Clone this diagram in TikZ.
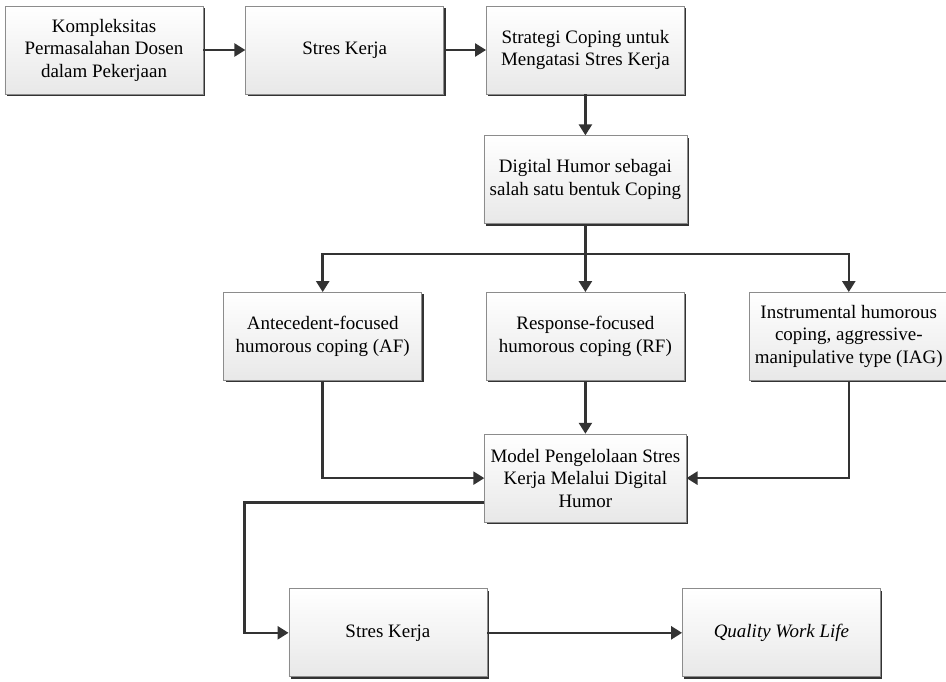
\documentclass[tikz,border=0pt]{standalone}
\usepackage{fontspec}
\setmainfont{Liberation Serif}
\usetikzlibrary{positioning,shadows,arrows.meta}

\begin{document}
\begin{tikzpicture}[node distance=0.84cm]
                \tikzstyle{kotak}= [draw=black!45, thin, top color=white, bottom color=black!9, minimum width=3.96cm, minimum height=1.76cm, align=center, font=\fontsize{10.8}{12.8}\selectfont, drop shadow={shadow xshift=0.04cm, shadow yshift=-0.04cm, fill=black!80, opacity=1}]
                \tikzstyle{panah}= [-{Triangle[length=2.2mm,width=2.6mm]}, line width=1.4pt, draw=black!80]
                \useasboundingbox (-2.08,1.0) rectangle (16.84,-12.62);
                \node[kotak] (kompleks)  {Kompleksitas\\Permasalahan Dosen\\dalam Pekerjaan};
                \node[kotak] (stres) [right=of kompleks] {Stres Kerja};
		        \node[kotak] (strategi) [right=of stres] {Strategi Coping untuk\\Mengatasi Stres Kerja};
		        \node[kotak] (digital) [below=0.82cm of strategi] {Digital Humor sebagai\\salah satu bentuk Coping};
		        \node[kotak] (rf) [below=1.36cm of digital] {Response-focused\\humorous coping (RF)};
		        \node[kotak] (af) [left=1.28cm of rf] {Antecedent-focused\\humorous coping (AF)};
		        \node[kotak] (iag) [right=1.28cm of rf] {Instrumental humorous\\coping, aggressive-\\manipulative type (IAG)};
		        \node[kotak] (model) [below=1.06cm of rf] {Model Pengelolaan Stres\\Kerja Melalui Digital\\Humor};
		        \node[kotak] (stres2) [below=1.32cm of model, xshift=-3.95cm] {Stres Kerja};
		        \node[kotak] (qwl) [below=1.32cm of model, xshift=3.92cm] {\textit{Quality Work Life}};
		        
                 \draw[panah] (kompleks) -- (stres);
                 \draw[panah] (stres) -- (strategi);
                 \draw[panah] (strategi) -- (digital);
                 \draw[panah] (digital.south) -- ++(0,-0.6) -| (af.north);
                 \draw[panah] (digital.south) -- ++(0,-0.6) -| (iag.north);
                 \draw[panah] (digital.south) -- (rf.north);
                 \draw[panah] (af.south) |- (model.west);
                 \draw[panah] (iag.south) |- (model.east);
                 \draw[panah] (rf.south) -- (model.north);
                 \draw[panah] ([yshift=0.4cm]model.south west) -| ([xshift=-0.88cm]stres2.west) -- (stres2.west);
                 \draw[panah] (stres2) -- (qwl);
\end{tikzpicture}
\end{document}
